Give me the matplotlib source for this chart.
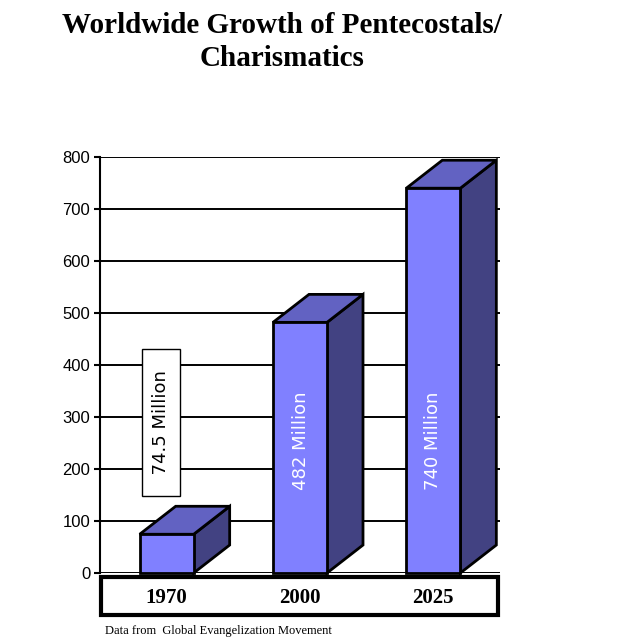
import matplotlib
matplotlib.use("Agg")
import matplotlib.pyplot as plt
from matplotlib.patches import Rectangle, Polygon
from matplotlib.transforms import blended_transform_factory

# ---- data ----
categories = ["1970", "2000", "2025"]
values = [74.5, 482, 740]
value_labels = ["74.5 Million", "482 Million", "740 Million"]
yticks = [0, 100, 200, 300, 400, 500, 600, 700, 800]
title = "Worldwide Growth of Pentecostals/\nCharismatics"
source = "Data from  Global Evangelization Movement"

# ---- style ----
FRONT = "#8080FF"
TOP = "#6262C2"
SIDE = "#424282"
W, H = 644, 638
fig = plt.figure(figsize=(W / 100, H / 100), dpi=100)
fig.patch.set_facecolor("white")

def fx(px):
    return px / W

def fy(py):
    return (H - py) / H

ax = fig.add_axes([fx(100), fy(573), fx(500) - fx(100), fy(157) - fy(573)])
ax.set_xlim(0, 3)
ax.set_ylim(0, 800)
for s in ["top", "right", "bottom"]:
    ax.spines[s].set_visible(False)
ax.spines["left"].set_linewidth(1.5)
ax.set_xticks([])
ax.set_yticks(yticks)
ax.tick_params(axis="y", length=4, width=1.5, pad=3, labelsize=12)
for lab in ax.get_yticklabels():
    lab.set_fontfamily("Liberation Sans")
ax.grid(axis="y", color="black", linewidth=1.4)
ax.set_axisbelow(True)

bar_w = 0.405
dx = 0.27      # depth offset in x (data units)
dy = 53.8      # depth offset in y (data units)
for i, v in enumerate(values):
    c = i + 0.5
    x0, x1 = c - bar_w / 2, c + bar_w / 2
    side = Polygon([(x1, 0), (x1 + dx, dy), (x1 + dx, v + dy), (x1, v)],
                   closed=True, facecolor=SIDE, edgecolor="black", lw=2,
                   zorder=3, clip_on=False, joinstyle="miter")
    top = Polygon([(x0, v), (x1, v), (x1 + dx, v + dy), (x0 + dx, v + dy)],
                  closed=True, facecolor=TOP, edgecolor="black", lw=2,
                  zorder=3, clip_on=False, joinstyle="miter")
    front = Rectangle((x0, 0), bar_w, v, facecolor=FRONT, edgecolor="black",
                      lw=2, zorder=4, clip_on=False, joinstyle="miter")
    ax.add_patch(side)
    ax.add_patch(top)
    ax.add_patch(front)

# value labels
label_pos = [(0.46, 290), (1.505, 254), (2.5, 254)]
for i, (lbl, (lx, ly)) in enumerate(zip(value_labels, label_pos)):
    if i == 0:
        ax.text(lx, ly, "  " + lbl + "  ", rotation=90, ha="center", va="center",
                fontsize=13, color="black", family="DejaVu Sans", zorder=6,
                bbox=dict(boxstyle="square,pad=0.55", facecolor="white",
                          edgecolor="black", lw=1))
    else:
        ax.text(lx, ly, lbl, rotation=90, ha="center", va="center",
                fontsize=13, color="white", family="DejaVu Sans", zorder=6)

# category box
box = Rectangle((fx(101), fy(615)), fx(498) - fx(101), fy(577) - fy(615),
                transform=fig.transFigure, facecolor="white", edgecolor="black",
                lw=3, zorder=10, clip_on=False)
ax.add_patch(box)
trans = blended_transform_factory(ax.transData, fig.transFigure)
for i, cat in enumerate(categories):
    ax.text(i + 0.5, fy(598), cat, transform=trans, ha="center", va="center",
            fontsize=15, fontweight="bold", family="Liberation Serif",
            zorder=11, clip_on=False)

# title
fig.text(fx(282), fy(42), title, ha="center", va="center", fontsize=21,
         fontweight="bold", family="Liberation Serif", linespacing=1.32)

# source
fig.text(fx(105), fy(631), source, ha="left", va="center", fontsize=9,
         family="Liberation Serif")

fig.savefig("out.png", dpi=100, facecolor="white")
